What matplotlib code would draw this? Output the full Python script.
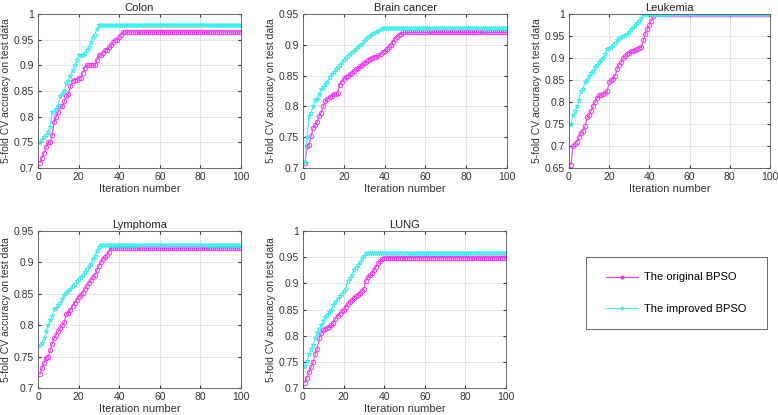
import matplotlib
matplotlib.use("Agg")
import matplotlib.pyplot as plt
from matplotlib.lines import Line2D

plt.rcParams['font.family'] = ['Liberation Sans', 'DejaVu Sans']

N_ITER = 100
iterations = list(range(1, N_ITER + 1))

titles = ["Colon", "Brain cancer", "Leukemia", "Lymphoma", "LUNG"]
series_labels = ["The original BPSO", "The improved BPSO"]

colon_orig_rise = [0.71, 0.72, 0.73, 0.74, 0.75, 0.75, 0.765, 0.79, 0.80, 0.81,
                   0.82, 0.82, 0.83, 0.84, 0.845, 0.86, 0.87, 0.872, 0.872, 0.875,
                   0.875, 0.885, 0.895, 0.90, 0.90, 0.90, 0.90, 0.90, 0.91, 0.92,
                   0.92, 0.925, 0.93, 0.93, 0.935, 0.94, 0.945, 0.95, 0.95, 0.955,
                   0.96]
colon_orig_plateau = 0.965
colon_impr_rise = [0.75, 0.755, 0.76, 0.765, 0.77, 0.78, 0.81, 0.81, 0.815, 0.82,
                   0.84, 0.845, 0.85, 0.865, 0.87, 0.88, 0.89, 0.90, 0.91, 0.92,
                   0.92, 0.92, 0.925, 0.93, 0.935, 0.945, 0.955, 0.96, 0.97]
colon_impr_plateau = 0.978

brain_orig_rise = [0.708, 0.735, 0.738, 0.752, 0.765, 0.77, 0.775, 0.785, 0.79, 0.80,
                   0.808, 0.812, 0.815, 0.817, 0.82, 0.82, 0.822, 0.835, 0.84, 0.845,
                   0.848, 0.85, 0.852, 0.855, 0.858, 0.86, 0.862, 0.865, 0.868, 0.87,
                   0.872, 0.875, 0.877, 0.878, 0.88, 0.88, 0.883, 0.885, 0.888, 0.89,
                   0.893, 0.897, 0.90, 0.905, 0.91, 0.913, 0.916, 0.918]
brain_orig_plateau = 0.92
brain_impr_rise = [0.71, 0.75, 0.785, 0.79, 0.80, 0.81, 0.812, 0.82, 0.828, 0.832,
                   0.836, 0.84, 0.848, 0.852, 0.856, 0.86, 0.864, 0.868, 0.872, 0.876,
                   0.879, 0.882, 0.885, 0.888, 0.89, 0.893, 0.896, 0.899, 0.902, 0.906,
                   0.91, 0.913, 0.915, 0.917, 0.919, 0.921, 0.923, 0.925]
brain_impr_plateau = 0.927

leuk_orig_rise = [0.657, 0.70, 0.705, 0.71, 0.72, 0.73, 0.735, 0.745, 0.765, 0.77,
                  0.78, 0.79, 0.80, 0.81, 0.815, 0.815, 0.818, 0.82, 0.825, 0.845,
                  0.85, 0.853, 0.86, 0.875, 0.885, 0.89, 0.90, 0.905, 0.91, 0.912,
                  0.915, 0.915, 0.918, 0.92, 0.922, 0.925, 0.94, 0.955, 0.965, 0.975,
                  0.985, 0.995]
leuk_orig_plateau = 1.0
leuk_impr_rise = [0.75, 0.77, 0.78, 0.79, 0.805, 0.825, 0.83, 0.845, 0.85, 0.86,
                  0.865, 0.87, 0.88, 0.885, 0.89, 0.895, 0.90, 0.91, 0.92, 0.922,
                  0.925, 0.93, 0.935, 0.94, 0.945, 0.948, 0.95, 0.952, 0.955, 0.96,
                  0.965, 0.97, 0.975, 0.98, 0.985, 0.99]
leuk_impr_plateau = 1.0

lymph_orig_rise = [0.722, 0.732, 0.74, 0.748, 0.75, 0.76, 0.77, 0.78, 0.785, 0.79,
                   0.795, 0.80, 0.805, 0.818, 0.82, 0.825, 0.83, 0.835, 0.84, 0.845,
                   0.848, 0.852, 0.857, 0.862, 0.867, 0.872, 0.876, 0.88, 0.888, 0.895,
                   0.90, 0.905, 0.908, 0.912, 0.917]
lymph_orig_plateau = 0.923
lymph_impr_rise = [0.768, 0.772, 0.78, 0.79, 0.80, 0.808, 0.815, 0.826, 0.828, 0.832,
                   0.836, 0.842, 0.848, 0.852, 0.855, 0.858, 0.862, 0.866, 0.87, 0.873,
                   0.876, 0.88, 0.885, 0.89, 0.894, 0.897, 0.905, 0.91, 0.918, 0.925]
lymph_impr_plateau = 0.928

lung_orig_rise = [0.71, 0.72, 0.73, 0.74, 0.75, 0.765, 0.775, 0.795, 0.805, 0.81,
                  0.812, 0.815, 0.816, 0.82, 0.825, 0.832, 0.838, 0.842, 0.848, 0.85,
                  0.855, 0.86, 0.865, 0.868, 0.872, 0.875, 0.878, 0.882, 0.886, 0.89,
                  0.905, 0.912, 0.915, 0.92, 0.925, 0.932, 0.938, 0.942, 0.946]
lung_orig_plateau = 0.949
lung_impr_rise = [0.742, 0.752, 0.765, 0.775, 0.783, 0.795, 0.805, 0.812, 0.82, 0.828,
                  0.835, 0.84, 0.845, 0.85, 0.858, 0.865, 0.87, 0.875, 0.88, 0.885,
                  0.89, 0.905, 0.91, 0.915, 0.925, 0.93, 0.935, 0.94, 0.948, 0.952]
lung_impr_plateau = 0.958

ylims = [(0.7, 1.0), (0.7, 0.95), (0.65, 1.0), (0.7, 0.95), (0.7, 1.0)]
ytick_sets = [
    [0.7, 0.75, 0.8, 0.85, 0.9, 0.95, 1.0],
    [0.7, 0.75, 0.8, 0.85, 0.9, 0.95],
    [0.65, 0.7, 0.75, 0.8, 0.85, 0.9, 0.95, 1.0],
    [0.7, 0.75, 0.8, 0.85, 0.9, 0.95],
    [0.7, 0.75, 0.8, 0.85, 0.9, 0.95, 1.0],
]
xticks = [0, 20, 40, 60, 80, 100]


def full(rise, plateau):
    return rise + [plateau] * (N_ITER - len(rise))


data = [
    (full(colon_orig_rise, colon_orig_plateau), full(colon_impr_rise, colon_impr_plateau)),
    (full(brain_orig_rise, brain_orig_plateau), full(brain_impr_rise, brain_impr_plateau)),
    (full(leuk_orig_rise, leuk_orig_plateau), full(leuk_impr_rise, leuk_impr_plateau)),
    (full(lymph_orig_rise, lymph_orig_plateau), full(lymph_impr_rise, lymph_impr_plateau)),
    (full(lung_orig_rise, lung_orig_plateau), full(lung_impr_rise, lung_impr_plateau)),
]

W, H = 778, 415
fig = plt.figure(figsize=(W / 100, H / 100), dpi=100)

# pixel boxes: left, top, right, bottom
boxes = [
    (38, 14, 241, 168),
    (303, 14, 507, 168),
    (569, 14, 770, 168),
    (38, 231, 241, 388),
    (303, 231, 506, 388),
]

MAG = '#f03cf0'
CYA = '#3ceeee'
SPINE = '#555555'

for i, (l, t, r, b) in enumerate(boxes):
    ax = fig.add_axes([l / W, 1 - b / H, (r - l) / W, (b - t) / H])
    orig, impr = data[i]
    ax.plot(iterations, orig, color=MAG, lw=0.8, marker='o', ms=3.2,
            mfc='none', mew=0.7)
    ax.plot(iterations, impr, color=CYA, lw=0.8, marker='*', ms=3.6,
            mfc='none', mew=0.7)
    ax.set_xlim(0, 100)
    ax.set_ylim(*ylims[i])
    ax.set_xticks(xticks)
    ax.set_yticks(ytick_sets[i])
    ax.set_yticklabels([f"{v:g}" for v in ytick_sets[i]])
    ax.grid(True, color='#e0e0e0', lw=0.6)
    ax.set_axisbelow(True)
    ax.tick_params(direction='in', length=2.5, labelsize=7.5, colors='#333333',
                   top=True, right=True, pad=3)
    for s in ax.spines.values():
        s.set_color(SPINE)
        s.set_linewidth(0.6)
    ax.set_title(titles[i], fontsize=8, pad=2, color='#222222')
    ax.set_xlabel("Iteration number", fontsize=8, labelpad=1, color='#333333')
    ax.set_ylabel("5-fold CV accuracy on test data", fontsize=7.5, labelpad=2,
                  color='#333333')

# legend box
lx0, ly0, lx1, ly1 = 586, 257, 767, 329
lax = fig.add_axes([lx0 / W, 1 - ly1 / H, (lx1 - lx0) / W, (ly1 - ly0) / H])
lax.set_xticks([])
lax.set_yticks([])
for s in lax.spines.values():
    s.set_color('#666666')
    s.set_linewidth(0.7)
handles = [
    Line2D([], [], color=MAG, lw=0.8, marker='o', ms=2.5, mfc=MAG, mew=0.5),
    Line2D([], [], color=CYA, lw=0.8, marker='*', ms=3, mfc=CYA, mew=0.5),
]
lax.legend(handles, series_labels, loc='center', frameon=False, fontsize=8,
           labelspacing=1.9, handlelength=2.8, handletextpad=0.6)

fig.savefig("out.png", dpi=100)
